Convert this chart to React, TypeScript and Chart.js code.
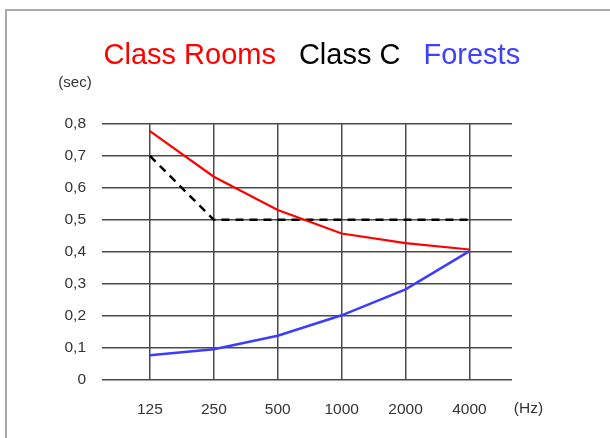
import React, { useEffect, useRef } from "react";
import { Chart, registerables } from "chart.js";

Chart.register(...registerables);

const freqLabels = ["125", "250", "500", "1000", "2000", "4000"];
const classRooms = [0.778, 0.635, 0.531, 0.457, 0.427, 0.407];
const classC = [0.7, 0.5, 0.5, 0.5, 0.5, 0.5];
const forests = [0.076, 0.095, 0.137, 0.201, 0.282, 0.402];
const yTicks = [0, 0.1, 0.2, 0.3, 0.4, 0.5, 0.6, 0.7, 0.8];

const titleParts = [
  { text: "Class Rooms", color: "#ff0000" },
  { text: "Class C", color: "#000000" },
  { text: "Forests", color: "#4040ff" },
];

const FONT = '"Liberation Sans", Arial, sans-serif';
const toPoints = (arr: number[]) => arr.map((y, i) => ({ x: i, y }));

const decorPlugin = {
  id: "decor",
  afterDraw(chart: any) {
    const ctx = chart.ctx;
    const area = chart.chartArea;
    ctx.save();
    // title
    ctx.font = `29px ${FONT}`;
    ctx.textBaseline = "alphabetic";
    ctx.textAlign = "left";
    let x = area.left + 1.5;
    const gap = 23;
    titleParts.forEach((p) => {
      ctx.fillStyle = p.color;
      ctx.fillText(p.text, x, area.top - 60.5);
      x += ctx.measureText(p.text).width + gap;
    });
    // unit labels
    ctx.fillStyle = "#333";
    ctx.textAlign = "center";
    ctx.textBaseline = "middle";
    ctx.font = `15px ${FONT}`;
    ctx.fillText("(sec)", area.left - 27, area.top - 41);
    ctx.font = `15.5px ${FONT}`;
    ctx.fillText("(Hz)", area.right + 16.5, area.bottom + 29);
    ctx.restore();
  },
};

export default function App() {
  const canvasRef = useRef<HTMLCanvasElement | null>(null);

  useEffect(() => {
    if (!canvasRef.current) return;
    const chart = new Chart(canvasRef.current, {
      type: "line",
      data: {
        datasets: [
          {
            label: "Class Rooms",
            data: toPoints(classRooms),
            borderColor: "#ff0000",
            borderWidth: 2.2,
            pointRadius: 0,
            tension: 0,
          },
          {
            label: "Class C",
            data: toPoints(classC),
            borderColor: "#000000",
            borderWidth: 2.5,
            borderDash: [8, 6],
            pointRadius: 0,
            tension: 0,
          },
          {
            label: "Forests",
            data: toPoints(forests),
            borderColor: "#3c3cff",
            borderWidth: 2.5,
            pointRadius: 0,
            tension: 0,
          },
        ],
      },
      options: {
        responsive: false,
        animation: false,
        devicePixelRatio: 1,
        layout: { padding: { top: 124, right: 98, left: 0, bottom: 0 } },
        plugins: {
          legend: { display: false },
          tooltip: { enabled: false },
          title: { display: false },
        },
        scales: {
          x: {
            type: "linear",
            min: -0.75,
            max: 5.666,
            afterBuildTicks: (scale: any) => {
              scale.ticks = freqLabels.map((_, i) => ({ value: i }));
            },
            afterFit: (scale: any) => {
              scale.height = 58.5;
            },
            grid: { color: "#4a4a4a", lineWidth: 1.5, drawTicks: false },
            border: { display: false },
            ticks: {
              padding: 21,
              color: "#333",
              font: { family: FONT, size: 15.5 },
              callback: (v: any) => freqLabels[v] ?? "",
              maxRotation: 0,
              autoSkip: false,
            },
          },
          y: {
            min: 0,
            max: 0.8,
            afterBuildTicks: (scale: any) => {
              scale.ticks = yTicks.map((v) => ({ value: v }));
            },
            afterFit: (scale: any) => {
              scale.width = 102;
            },
            grid: { color: "#4a4a4a", lineWidth: 1.5, drawTicks: false },
            border: { display: false },
            ticks: {
              padding: 16,
              color: "#333",
              font: { family: FONT, size: 15.5 },
              callback: (v: any) =>
                Number(v) === 0 ? "0" : Number(v).toFixed(1).replace(".", ","),
            },
          },
        },
      },
      plugins: [decorPlugin],
    });
    return () => chart.destroy();
  }, []);

  return (
    <div style={{ position: "fixed", left: 0, top: 0, width: 610, height: 438, background: "#fff" }}>
      <div
        style={{
          position: "absolute",
          left: 5,
          top: 9,
          width: 605,
          height: 429,
          boxSizing: "border-box",
          borderTop: "2px solid #aaa",
          borderLeft: "2px solid #aaa",
        }}
      />
      <canvas
        ref={canvasRef}
        width={610}
        height={438}
        style={{ position: "absolute", left: 0, top: 0, width: 610, height: 438 }}
      />
    </div>
  );
}
